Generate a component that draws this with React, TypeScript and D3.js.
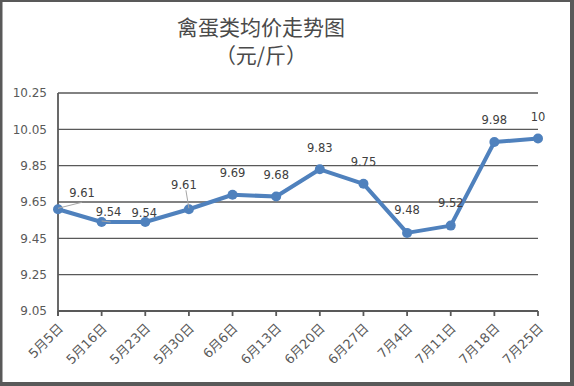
import React from "react";
import * as d3 from "d3";

const categories = ["5月5日", "5月16日", "5月23日", "5月30日", "6月6日", "6月13日", "6月20日", "6月27日", "7月4日", "7月11日", "7月18日", "7月25日"];
const values = [9.61, 9.54, 9.54, 9.61, 9.69, 9.68, 9.83, 9.75, 9.48, 9.52, 9.98, 10];
const yTicks = [9.05, 9.25, 9.45, 9.65, 9.85, 10.05, 10.25];
const valueLabels = ["9.61", "9.54", "9.54", "9.61", "9.69", "9.68", "9.83", "9.75", "9.48", "9.52", "9.98", "10"];
const titleLines = ["禽蛋类均价走势图", "（元/斤）"];

// label placement (style): offsets of label centre from point, optional leader line
const labelOffsets: [number, number, boolean][] = [
  [24, -17, true], [7, -10, true], [-1, -9, false], [-5, -25, true],
  [0, -22, false], [0, -22, false], [0, -22, false], [0, -22, false],
  [0, -23, false], [0, -23, false], [0, -22, false], [0, -22, false],
];

export default function App() {
  const W = 574, H = 386;
  const left = 58, right = 538, top = 93, bottom = 311;
  const x = d3.scalePoint<string>().domain(categories).range([left, right]);
  const y = d3.scaleLinear().domain([9.05, 10.25]).range([bottom, top]);
  const line = d3.line<number>().x((_, i) => x(categories[i])!).y((d) => y(d));
  const axisColor = "#595959";
  const numFont = "'DejaVu Sans', Verdana, sans-serif";

  return (
    <svg width={W} height={H} style={{ position: "fixed", left: 0, top: 0 }}>
      <rect x={0} y={0} width={W} height={H} fill={axisColor} />
      <rect x={2.5} y={2} width={567.5} height={380} fill="#fff" />
      {titleLines.map((t, i) => (
        <text key={i} x={261} y={35 + i * 28} textAnchor="middle" fontSize={21}
          fontFamily="'Noto Sans CJK SC', sans-serif" fill="#4a4a4a">{t}</text>
      ))}
      {yTicks.map((t) => (
        <g key={t}>
          <line x1={left} x2={right} y1={y(t)} y2={y(t)} stroke={axisColor} strokeWidth={1.3} />
          <text x={47} y={y(t) + 4.3} textAnchor="end" fontSize={12} fontFamily={numFont} fill={axisColor}>{t.toFixed(2)}</text>
        </g>
      ))}
      <line x1={left} x2={left} y1={top} y2={bottom + 5} stroke={axisColor} strokeWidth={1.8} />
      <line x1={left} x2={right} y1={bottom} y2={bottom} stroke={axisColor} strokeWidth={1.8} />
      {categories.map((c) => (
        <g key={c}>
          <line x1={x(c)} x2={x(c)} y1={bottom} y2={bottom + 5} stroke={axisColor} strokeWidth={1.8} />
          <text transform={`translate(${x(c)! + 6},${bottom + 18}) rotate(-45)`} textAnchor="end"
            fontSize={13} fontFamily={`${numFont}, 'Noto Sans CJK SC'`} fill={axisColor}>{c}</text>
        </g>
      ))}
      <path d={line(values)!} fill="none" stroke="#4F81BD" strokeWidth={4} strokeLinejoin="round" />
      {values.map((v, i) => (
        <circle key={i} cx={x(categories[i])} cy={y(v)} r={5} fill="#4F81BD" />
      ))}
      {values.map((v, i) => {
        const px = x(categories[i])!, py = y(v);
        const [dx, dy, leader] = labelOffsets[i];
        const lx = px + dx, ly = py + dy;
        return (
          <g key={i}>
            {leader && (
              <line x1={px} y1={py - 1} x2={i === 0 ? lx : lx + 2} y2={i === 0 ? ly + 10 : i === 1 ? py : ly + 6}
                stroke="#A6A6A6" strokeWidth={1} />
            )}
            <text x={lx} y={ly + 4.3} textAnchor="middle" fontSize={11.5} fontFamily={numFont} fill="#404040">{valueLabels[i]}</text>
          </g>
        );
      })}
    </svg>
  );
}
